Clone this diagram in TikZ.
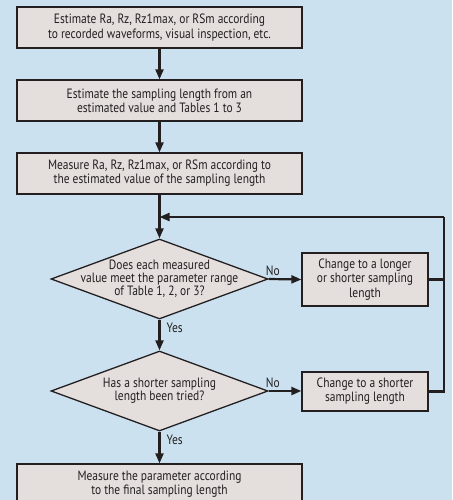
\documentclass[tikz,border=0pt]{standalone}
\usepackage{fontspec}
\setmainfont[FakeStretch=0.85]{PT Sans}
\usetikzlibrary{arrows.meta,shapes.geometric}
\definecolor{bg}{HTML}{CCE1F0}
\definecolor{boxfill}{HTML}{E4DFDC}
\definecolor{ink}{HTML}{231F20}
\tikzset{
  stepbox/.style={draw=ink, fill=boxfill, line width=1.3pt, inner sep=0pt, align=center,
    font=\fontsize{13.5}{14.2}\selectfont, text=ink},
  decision/.style={diamond, draw=ink, fill=boxfill, line width=1.3pt, inner sep=0pt},
  dtext/.style={align=center, font=\fontsize{13.5}{13.2}\selectfont, text=ink, inner sep=0pt},
  lbl/.style={font=\fontsize{13.5}{14}\selectfont, text=ink, inner sep=0pt},
  flow/.style={draw=ink, line width=2.2pt, -{Triangle[length=10pt,width=8pt]}},
  plain/.style={draw=ink, line width=2.2pt}
}
\begin{document}
\begin{tikzpicture}[x=1pt,y=-1pt]
\useasboundingbox (0,0) rectangle (452,500);
\fill[bg] (0,0) rectangle (452,500);
\clip (0,0) rectangle (452,500);
\node[stepbox, minimum width=285pt, minimum height=41pt] (b1) at (159.5,27.5)
  {Estimate Ra, Rz, Rz1max, or RSm according\\to recorded waveforms, visual inspection, etc.};
\node[stepbox, minimum width=285pt, minimum height=41pt] (b2) at (159.5,100.5)
  {Estimate the sampling length from an\\estimated value and Tables 1 to 3};
\node[stepbox, minimum width=285pt, minimum height=41pt] (b3) at (159.5,173.5)
  {Measure Ra, Rz, Rz1max, or RSm according to\\the estimated value of the sampling length};
\node[decision, minimum width=217pt, minimum height=80pt] (d1) at (159.5,279) {};
\node[dtext] at (d1) {Does each measured\\value meet the parameter range\\of Table 1, 2, or 3?};
\node[stepbox, minimum width=126pt, minimum height=53pt] (b4) at (365,279.5)
  {Change to a longer\\or shorter sampling\\length};
\node[decision, minimum width=217pt, minimum height=80pt] (d2) at (159.5,391) {};
\node[dtext] at (d2) {Has a shorter sampling\\length been tried?};
\node[stepbox, minimum width=126pt, minimum height=39pt] (b5) at (365,391.5)
  {Change to a shorter\\sampling length};
\node[stepbox, minimum width=285pt, minimum height=41pt] (b6) at (159.5,484.5)
  {Measure the parameter according\\to the final sampling length};
\coordinate (loop) at (444,217);
\coordinate (merge) at (159.5,217);
\draw[flow] (b1) -- (b2);
\draw[flow] (b2) -- (b3);
\draw[flow] (b3) -- (d1);
\draw[flow] (d1.east) -- (b4.west);
\draw[plain] (b4.east) -| (loop);
\draw[flow] (loop) -- (merge);
\draw[plain] (b5.east) -| (loop);
\draw[flow] (d1) -- (d2);
\draw[flow] (d2.east) -- (b5.west |- d2.east);
\draw[flow] (d2) -- (b6);
\node[lbl, anchor=south west] (no1) at ([xshift=-3pt,yshift=3pt]d1.east) {No};
\node[lbl, anchor=south west] (no2) at ([xshift=-3pt,yshift=3pt]d2.east) {No};
\node[lbl, anchor=north west] (yes1) at ([xshift=7pt,yshift=-3pt]d1.south) {Yes};
\node[lbl, anchor=north west] (yes2) at ([xshift=7pt,yshift=-3pt]d2.south) {Yes};
\end{tikzpicture}
\end{document}
